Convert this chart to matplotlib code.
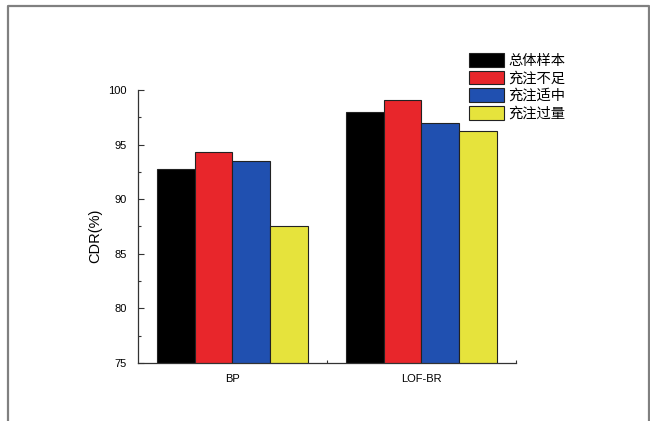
import matplotlib
matplotlib.use("Agg")
from matplotlib import pyplot as plt
from matplotlib.lines import Line2D
import numpy as np

groups = ["BP", "LOF-BR"]
series = ["总体样本", "充注不足", "充注适中", "充注过量"]
colors = ["#000000", "#e8262b", "#2050b0", "#e6e33c"]
values = [
    [92.8, 98.0],  # 总体样本
    [94.3, 99.1],  # 充注不足
    [93.5, 97.0],  # 充注适中
    [87.5, 96.2],  # 充注过量
]
yticks = [75, 80, 85, 90, 95, 100]

plt.rcParams["font.family"] = ["Liberation Sans", "Noto Sans CJK SC", "DejaVu Sans"]

fig = plt.figure(figsize=(6.5, 4.21), dpi=100)
ax = fig.add_axes([0.2123, 0.1378, 0.5815, 0.6485])

x = np.arange(1, len(groups) + 1)
width = 0.2
for i, (name, col) in enumerate(zip(series, colors)):
    ax.bar(x + (i - 1.5) * width, values[i], width, color=col,
           edgecolor="#222222", linewidth=0.8, label=name)

ax.set_xlim(0.5, 2.5)
ax.set_ylim(75, 100)
ax.set_xticks(x)
ax.set_xticklabels(groups, fontsize=8)
ax.set_xticks([1.5, 2.5], minor=True)
ax.set_yticks(yticks)
ax.set_yticklabels([str(t) for t in yticks], fontsize=8)
ax.set_yticks(np.arange(77.5, 100, 5), minor=True)
ax.tick_params(direction="in", length=4, width=0.8, color="#333333")
ax.tick_params(which="minor", direction="in", length=2.5, width=0.8, color="#333333")
ax.tick_params(axis="y", which="major", pad=8)
ax.tick_params(axis="x", which="major", length=0, pad=8)
ax.set_ylabel("CDR(%)", fontsize=10.5)
ax.yaxis.set_label_coords(-0.094, 0.465)

for s in ["top", "right"]:
    ax.spines[s].set_visible(False)
for s in ["left", "bottom"]:
    ax.spines[s].set_linewidth(0.9)
    ax.spines[s].set_color("#333333")

leg = fig.legend(loc="upper left", bbox_to_anchor=(0.722, 0.874),
                 frameon=False, fontsize=10.3, handlelength=2.4, handleheight=1.1,
                 labelspacing=0.2, handletextpad=0.3, borderaxespad=0,
                 borderpad=0)
for t in leg.get_texts():
    t.set_family(["Noto Sans CJK SC", "DejaVu Sans"])

# outer frame of the figure panel (open at the bottom)
fx0, fx1, fy1 = 7.5 / 650, 648.5 / 650, 1 - 5.5 / 421
fig.add_artist(Line2D([fx0, fx0, fx1, fx1], [0, fy1, fy1, 0],
                      color="#808080", linewidth=1.6, transform=fig.transFigure))

fig.savefig("out.png", dpi=100)
